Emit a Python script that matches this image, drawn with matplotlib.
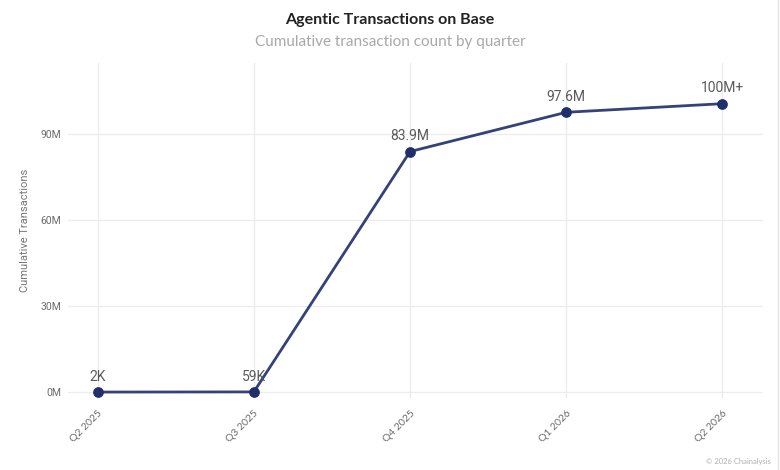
import matplotlib
matplotlib.use("Agg")
import matplotlib.pyplot as plt
from matplotlib.lines import Line2D

# Data
quarters = ["Q2 2025", "Q3 2025", "Q4 2025", "Q1 2026", "Q2 2026"]
cumulative_m = [0.002, 0.059, 83.9, 97.6, 100.6]
point_labels = ["2K", "59K", "83.9M", "97.6M", "100M+"]
y_ticks = [0, 30, 60, 90]

plt.rcParams["font.family"] = ["Lato", "DejaVu Sans"]

fig = plt.figure(figsize=(7.8, 4.7), dpi=100)
ax = fig.add_axes([0.0872, 0.153, 0.891, 0.713])

x = list(range(len(quarters)))
ax.plot(x, cumulative_m, color="#34427a", linewidth=2, zorder=3)
ax.scatter(x, cumulative_m, s=45, color="#1f2f6b", zorder=4)

for xi, yi, lab in zip(x, cumulative_m, point_labels):
    ax.annotate(lab, (xi, yi), xytext=(0, 6), textcoords="offset points",
                ha="center", va="bottom", fontsize=10, color="#5a5a5a",
                family=["Roboto", "DejaVu Sans"])

ax.set_xlim(-0.19, 4.26)
ax.set_ylim(-2.1, 114.8)
ax.set_xticks(x)
ax.set_xticklabels(quarters, rotation=45, ha="right", rotation_mode="anchor",
                   fontsize=7.5, color="#6b6b6b")
ax.set_yticks(y_ticks)
ax.set_yticklabels([f"{v}M" for v in y_ticks], fontsize=7.5, color="#6b6b6b",
                   family=["Roboto", "DejaVu Sans"])
ax.tick_params(axis="both", length=0, pad=5)
ax.tick_params(axis="x", pad=8)
ax.grid(True, color="#ececec", linewidth=0.9)
ax.set_axisbelow(True)
for s in ax.spines.values():
    s.set_visible(False)

# y axis title placed on the figure so it stays inside the canvas
fig.text(25 / 780, 0.51, "Cumulative Transactions", rotation=90, ha="center",
         va="center", fontsize=8, color="#777777", family=["Roboto", "DejaVu Sans"])

fig.text(0.5, 0.958, "Agentic Transactions on Base", ha="center", va="center",
         fontsize=11.5, fontweight="bold", color="#222222")
fig.text(0.5, 0.911, "Cumulative transaction count by quarter", ha="center",
         va="center", fontsize=11, color="#a8a8a8")
fig.text(0.988, 0.019, "© 2026 Chainalysis", ha="right", va="center",
         fontsize=5.5, color="#b0b0b0")

fig.add_artist(Line2D([0.997, 0.997], [0, 1], transform=fig.transFigure,
                      color="#e4e4e4", linewidth=1))

fig.savefig("out.png", dpi=100, facecolor="white")
